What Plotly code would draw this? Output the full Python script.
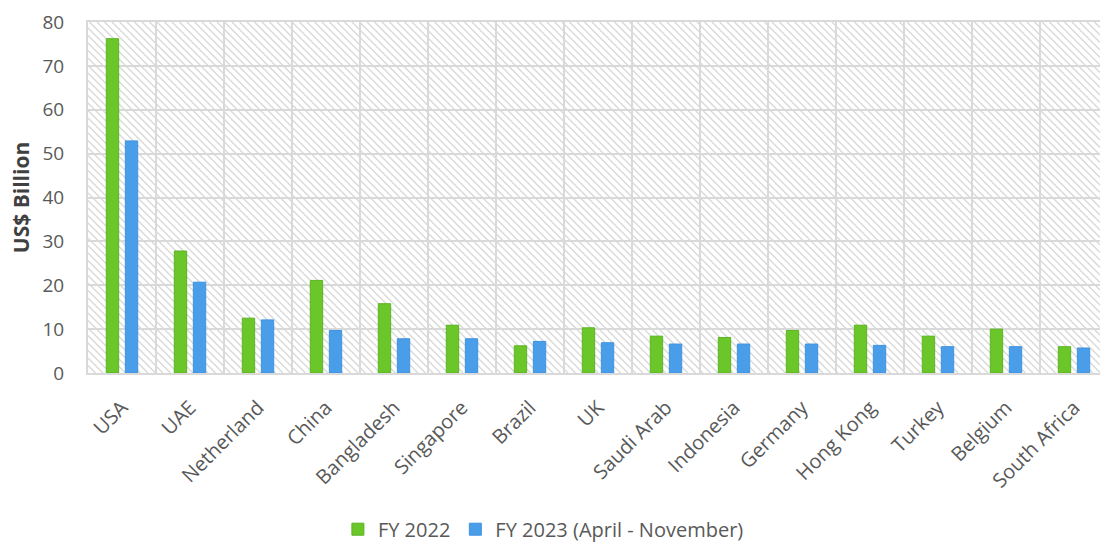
import plotly.graph_objects as go

# Export destinations and values (US$ billion)
countries = ["USA", "UAE", "Netherland", "China", "Bangladesh", "Singapore", "Brazil",
             "UK", "Saudi Arab", "Indonesia", "Germany", "Hong Kong", "Turkey",
             "Belgium", "South Africa"]
fy2022 = [76.2, 27.8, 12.5, 21.1, 15.8, 10.9, 6.2, 10.3, 8.4, 8.1, 9.7, 10.9, 8.4, 10.0, 6.0]
fy2023 = [52.9, 20.7, 12.1, 9.7, 7.8, 7.8, 7.2, 6.9, 6.6, 6.6, 6.6, 6.3, 6.0, 6.0, 5.7]
y_ticks = [0, 10, 20, 30, 40, 50, 60, 70, 80]

GREEN = "#6bc62a"
BLUE = "#4a9de8"
GRID = "#d9d9d9"
TEXT = "#595959"
FONT = "Open Sans"

W, H = 1100, 546
M_L, M_R, M_T, M_B = 88, 0, 22, 173
plot_w = W - M_L - M_R
plot_h = H - M_T - M_B
cat_px = 68.0  # width of one category slot in pixels
x_max = -0.5 + plot_w / cat_px

fig = go.Figure()
fig.add_trace(go.Bar(name="FY 2022", x=countries, y=fy2022,
                     marker=dict(color=GREEN, line=dict(color="#5db322", width=1))))
fig.add_trace(go.Bar(name="FY 2023 (April - November)", x=countries, y=fy2023,
                     marker=dict(color=BLUE, line=dict(color="#3f92df", width=1))))

# Diagonal hatch behind the gridlines: one path of 45° strokes clipped to the plot area
step = 7.5
segs = []
c = -plot_h
while c < plot_w:
    # line: px = py + c, py in [0, plot_h]
    py0 = max(0.0, -c)
    py1 = min(plot_h, plot_w - c)
    if py1 > py0:
        x0, y0 = (py0 + c) / plot_w, 1 - py0 / plot_h
        x1, y1 = (py1 + c) / plot_w, 1 - py1 / plot_h
        segs.append(f"M{x0:.5f},{y0:.5f}L{x1:.5f},{y1:.5f}")
    c += step
fig.add_shape(type="path", path="".join(segs), xref="paper", yref="paper",
              layer="below", line=dict(color="#d9d9d9", width=1.4))

fig.update_layout(
    width=W, height=H,
    margin=dict(l=M_L, r=M_R, t=M_T, b=M_B, autoexpand=False),
    paper_bgcolor="white", plot_bgcolor="white",
    font=dict(family=FONT, color=TEXT, size=19),
    barmode="group", bargap=0.44, bargroupgap=0.35,
    showlegend=True,
    legend=dict(orientation="h", x=0.45, xanchor="center", y=-0.445, yanchor="middle",
                font=dict(size=20, color=TEXT), itemwidth=30, traceorder="normal"),
)
fig.update_xaxes(
    range=[-0.5, x_max], tickangle=-45, tickson="boundaries", automargin=False,
    showgrid=True, gridcolor=GRID, gridwidth=2,
    showline=True, linecolor=GRID, linewidth=2, mirror=True,
    ticks="", ticklabelstandoff=13, tickfont=dict(size=20, color=TEXT),
)
fig.update_yaxes(
    range=[0, 80], tickvals=y_ticks, automargin=False,
    showgrid=True, gridcolor=GRID, gridwidth=2,
    showline=True, linecolor=GRID, linewidth=2,
    ticks="", ticklabelstandoff=18, tickfont=dict(size=19, color=TEXT),
    zeroline=False,
    title=dict(text="<b>US$ Billion</b>", font=dict(size=21, color="#404040"), standoff=7),
)

fig.write_html("out.html")
